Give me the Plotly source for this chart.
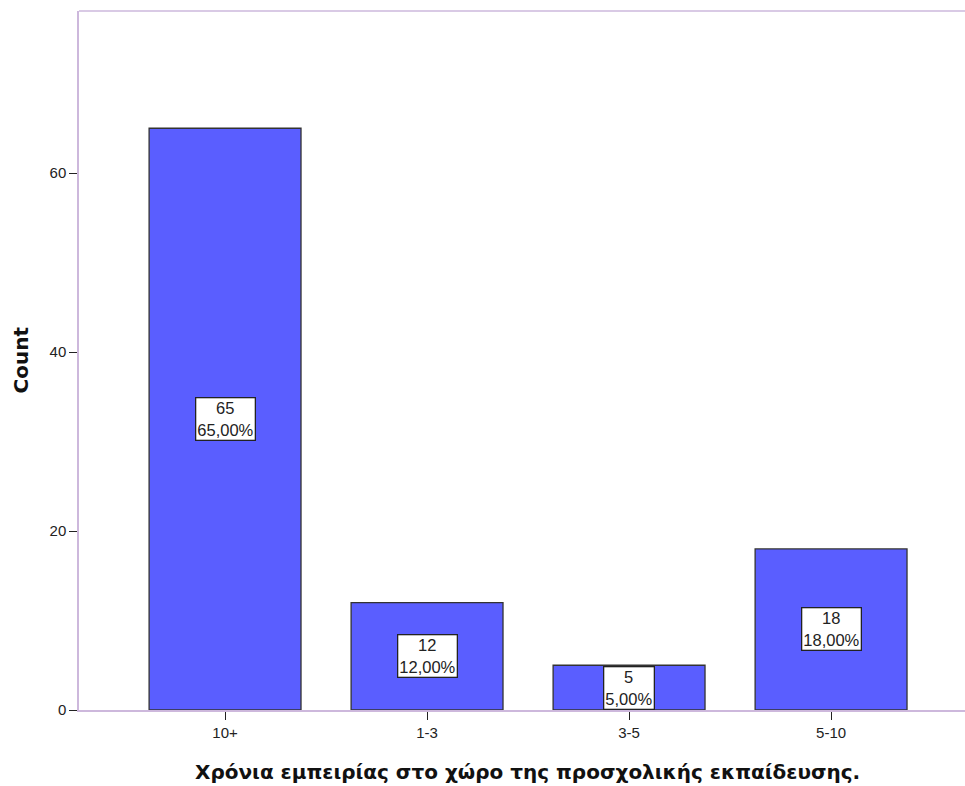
import plotly.graph_objects as go

categories = ["10+", "1-3", "3-5", "5-10"]
counts = [65, 12, 5, 18]
percents = ["65,00%", "12,00%", "5,00%", "18,00%"]
y_ticks = [0, 20, 40, 60]

x_title = "Χρόνια εμπειρίας στο χώρο της προσχολικής εκπαίδευσης."
y_title = "Count"

font_family = "Liberation Sans, Arial, sans-serif"
title_family = "DejaVu Sans, Verdana, sans-serif"
axis_purple = "#cdb8dc"

fig = go.Figure()
fig.add_trace(go.Bar(
    x=list(range(len(categories))),
    y=counts,
    width=0.752,
    marker=dict(color="#5a5eff", line=dict(color="#333333", width=1.3)),
    hoverinfo="skip",
))

for i, (c, p) in enumerate(zip(counts, percents)):
    fig.add_annotation(
        x=i, y=c / 2, xref="x", yref="y",
        text=f"{c}<br>{p}", showarrow=False,
        font=dict(family=font_family, size=16.5, color="#222222"),
        bgcolor="white", bordercolor="#222222", borderwidth=1.3, borderpad=1,
        align="center",
    )

# x-axis title
fig.add_annotation(
    xref="paper", yref="paper",
    x=(527 - 79) / (965 - 79), y=(710 - 772) / (710 - 11),
    text=f"<b>{x_title}</b>", showarrow=False,
    font=dict(family=title_family, size=20, color="#111111"),
    xanchor="center", yanchor="middle",
)
# y-axis title
fig.add_annotation(
    xref="paper", yref="paper",
    x=(20 - 79) / (965 - 79), y=0.5,
    text=f"<b>{y_title}</b>", showarrow=False, textangle=-90,
    font=dict(family=title_family, size=20, color="#111111"),
    xanchor="center", yanchor="middle",
)

fig.add_shape(type="line", xref="paper", yref="paper", x0=0, x1=1, y0=1, y1=1,
              line=dict(color=axis_purple, width=1.5))

fig.update_layout(
    width=965, height=786,
    margin=dict(l=79, r=0, t=11, b=76),
    plot_bgcolor="white", paper_bgcolor="white",
    showlegend=False,
    font=dict(family=font_family, size=15, color="#222222"),
    xaxis=dict(
        range=[-0.723, 3.663],
        tickmode="array", tickvals=list(range(len(categories))), ticktext=categories,
        showline=True, linecolor=axis_purple, linewidth=1.5,
        ticks="outside", ticklen=8, tickcolor="#222222", tickwidth=1.3,
        showgrid=False, zeroline=False,
        tickfont=dict(family=font_family, size=15, color="#222222"),
    ),
    yaxis=dict(
        range=[0, 78.1],
        tickmode="array", tickvals=y_ticks,
        showline=True, linecolor=axis_purple, linewidth=1.5,
        ticks="outside", ticklen=8, tickcolor="#222222", tickwidth=1.3,
        showgrid=False, zeroline=False,
        tickfont=dict(family=font_family, size=15, color="#222222"),
    ),
)

fig.write_html(
    "out.html",
    config={"displayModeBar": False},
    post_script="document.body.style.margin='0';document.body.style.padding='0';"
                "document.body.style.overflow='hidden';"
                "document.documentElement.style.overflow='hidden';",
)
